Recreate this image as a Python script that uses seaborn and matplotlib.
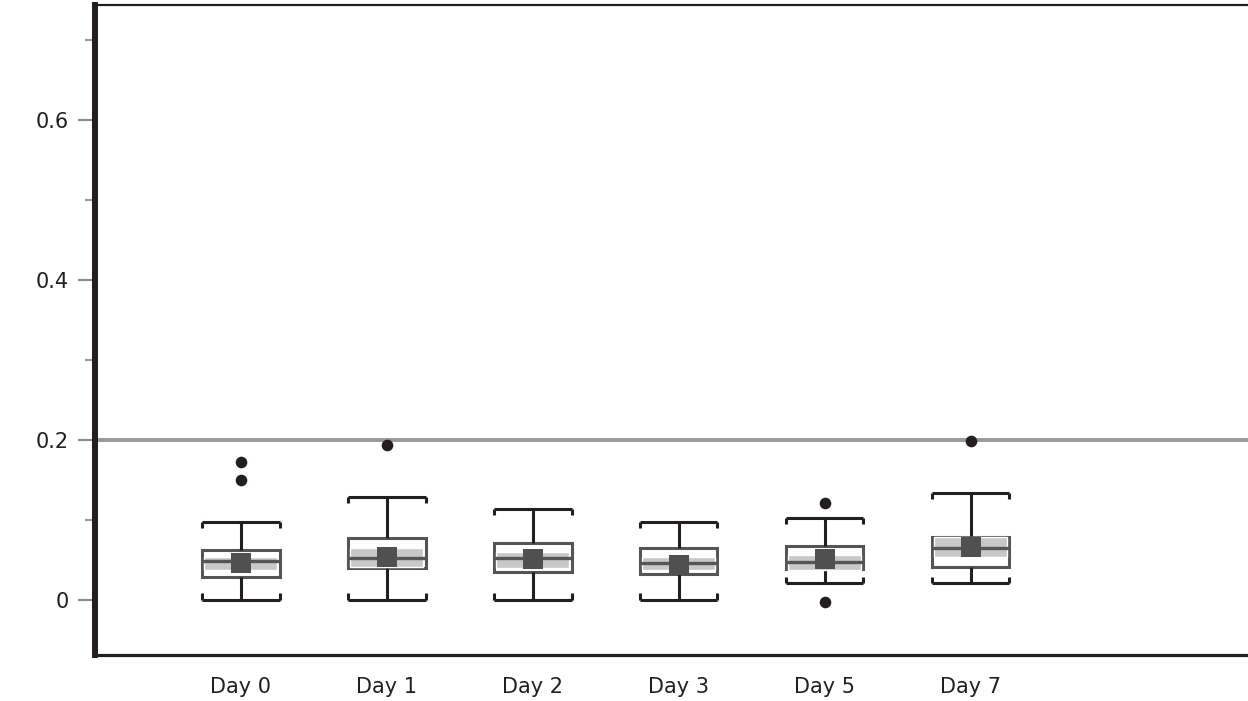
import numpy as np
import pandas as pd
import matplotlib
matplotlib.use("Agg")
import matplotlib.pyplot as plt
import seaborn as sns

# values
days = ["Day 0", "Day 1", "Day 2", "Day 3", "Day 5", "Day 7"]
whisk_lo = [0.0, 0.0, 0.0, 0.0, 0.021, 0.021]
q1 = [0.029, 0.040, 0.035, 0.0325, 0.039, 0.041]
median = [0.049, 0.0525, 0.0525, 0.046, 0.0475, 0.065]
q3 = [0.0625, 0.0775, 0.071, 0.065, 0.0675, 0.079]
whisk_hi = [0.0975, 0.129, 0.114, 0.0975, 0.1025, 0.134]
means = [0.046, 0.054, 0.051, 0.044, 0.051, 0.066]
band_lo = [0.0375, 0.041, 0.040, 0.0375, 0.0375, 0.054]
band_hi = [0.054, 0.065, 0.060, 0.054, 0.056, 0.078]
outlier_day = ["Day 0", "Day 0", "Day 1", "Day 5", "Day 5", "Day 7"]
outlier_val = [0.1725, 0.15, 0.194, 0.121, -0.0025, 0.199]
ref_line = 0.2
y_ticks = [0, 0.2, 0.4, 0.6]
y_ticklabels = ["0", "0.2", "0.4", "0.6"]

sns.set_theme(style="white")
plt.rcParams['font.family'] = ['DejaVu Sans']

# five-number table per day, long form for seaborn
rows = []
for i, d in enumerate(days):
    for v in (whisk_lo[i], q1[i], median[i], q3[i], whisk_hi[i]):
        rows.append({"day": d, "value": v})
df = pd.DataFrame(rows)
out_df = pd.DataFrame({"day": outlier_day, "value": outlier_val})
mean_df = pd.DataFrame({"day": days, "value": means})

fig = plt.figure(figsize=(12.48, 7.01), dpi=100)
ax = fig.add_axes([0.076, 0.0656, 0.9335, 0.9274])

box_w = 0.53
dark = "#231f20"
boxgray = "#555555"

sns.boxplot(data=df, x="day", y="value", order=days, whis=(0, 100),
            showfliers=False, width=box_w, color="white", linecolor=boxgray,
            linewidth=2.2, ax=ax,
            whiskerprops={"color": dark, "linewidth": 2.2},
            capprops={"visible": False},
            medianprops={"color": boxgray, "linewidth": 2.4, "zorder": 3.5})

xs = np.arange(len(days))
# light grey band inside each box
ax.bar(xs, np.array(band_hi) - np.array(band_lo), bottom=band_lo,
       width=box_w - 0.03, color="#c8c8c8", zorder=3)

# bracket-shaped caps
for hi_lo, sign in ((whisk_hi, -1), (whisk_lo, 1)):
    ax.hlines(hi_lo, xs - box_w / 2, xs + box_w / 2, color=dark, lw=2.2, zorder=4)
    for edge in (xs - box_w / 2, xs + box_w / 2):
        ax.vlines(edge, hi_lo, np.array(hi_lo) + sign * 0.008, color=dark, lw=2.2, zorder=4)

sns.scatterplot(data=mean_df, x="day", y="value", marker="s", s=210,
                color="#505050", linewidth=0, zorder=5, ax=ax)
sns.scatterplot(data=out_df, x="day", y="value", marker="o", s=70,
                color=dark, linewidth=0, zorder=5, ax=ax)

ax.axhline(ref_line, color="#9a9a9a", lw=2.8, zorder=1)

ax.set_xlim(-1, 6.98)
ax.set_ylim(-0.069, 0.744)
ax.set_yticks(y_ticks)
ax.set_yticklabels(y_ticklabels)
ax.set_yticks([0.1, 0.3, 0.5, 0.7], minor=True)
ax.set_xlabel("")
ax.set_ylabel("")

ax.tick_params(axis="y", which="major", left=True, length=12, width=1.5,
               color="#8a8a8a", pad=7, labelsize=15, labelcolor=dark)
ax.tick_params(axis="y", which="minor", left=True, length=7, width=1.5,
               color="#9a9a9a")
ax.tick_params(axis="x", length=0, pad=16, labelsize=15, labelcolor=dark)

for side, w in (("left", 4.3), ("bottom", 2.3), ("top", 1.6)):
    ax.spines[side].set_visible(True)
    ax.spines[side].set_color(dark)
    ax.spines[side].set_linewidth(w)
ax.spines["right"].set_visible(False)

fig.savefig("out.png", dpi=100)
